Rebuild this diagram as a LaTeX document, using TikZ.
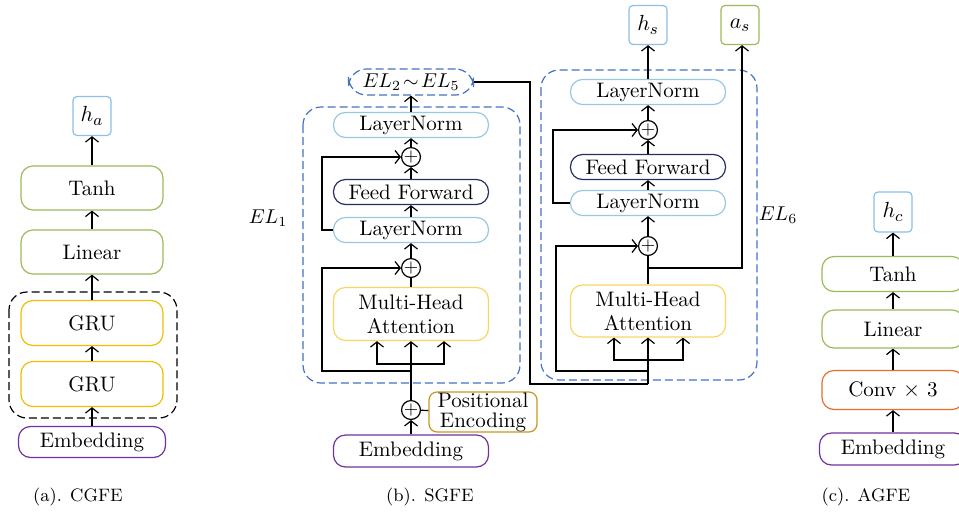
\documentclass[tikz,border=0pt]{standalone}
\usepackage{amsmath}
\usepackage{amssymb}
\usepackage{tikz}
\usetikzlibrary{arrows.meta}

\definecolor{hblue}{RGB}{140,190,232}
\definecolor{lnblue}{RGB}{150,200,222}
\definecolor{lgreen}{RGB}{155,187,89}
\definecolor{gruyel}{RGB}{240,190,0}
\definecolor{mhayel}{RGB}{250,212,95}
\definecolor{pegold}{RGB}{200,150,30}
\definecolor{ffnavy}{RGB}{40,45,100}
\definecolor{embpur}{RGB}{112,48,160}
\definecolor{convor}{RGB}{230,110,40}
\definecolor{dblue}{RGB}{68,114,196}

\begin{document}
\begin{tikzpicture}[x=0.5pt, y=-0.5pt, line width=0.6pt,
    >={Straight Barb[length=2.6pt,width=6.5pt]},
    box/.style={draw, rounded corners=6pt, minimum width=71pt, minimum height=22pt,
      inner sep=0pt, font=\fontsize{10.5}{12}\selectfont},
    pill/.style={box, minimum width=77.5pt, minimum height=12.5pt},
    outbox/.style={draw, rounded corners=2pt, minimum width=19pt, minimum height=19.5pt,
      inner sep=0pt, font=\fontsize{11}{12}\selectfont},
    plus/.style={draw, circle, inner sep=0pt, minimum size=7.5pt, font=\small},
    layer/.style={draw=dblue, dash pattern=on 4pt off 2pt, rounded corners=9pt},
    captext/.style={font=\small}]
      \useasboundingbox (0,0) rectangle (959,515);
      % (a) CGFE
      \draw[dash pattern=on 4pt off 2pt, rounded corners=9pt] (9,292) rectangle (177,418);
      \node[outbox, draw=hblue] (ha) at (92,116) {$h_a$};
      \node[box, draw=lgreen] (tanha) at (92,188) {Tanh};
      \node[box, draw=lgreen] (lina) at (92,252) {Linear};
      \node[box, draw=gruyel, minimum height=22.5pt] (grua) at (92,323) {GRU};
      \node[box, draw=gruyel, minimum height=22.5pt] (grub) at (92,384) {GRU};
      \node[box, draw=embpur, minimum width=73.5pt, minimum height=15.5pt] (emba) at (92,442) {Embedding};
      \draw[->] (emba) -- (grub);
      \draw[->] (grub) -- (grua);
      \draw[->] (grua) -- (lina);
      \draw[->] (lina) -- (tanha);
      \draw[->] (tanha) -- (ha);
      \node[captext] (capa) at (78,497) {(a). CGFE};

      % (b) SGFE, EL1
      \draw[layer] (303,107) rectangle (520,383);
      \node[layer, minimum width=62.5pt, minimum height=13pt, inner sep=0pt] (elmid) at (411,82) {$EL_2\!\sim\!EL_5$};
      \node[pill, draw=lnblue] (lnb1) at (411,125) {LayerNorm};
      \node[plus] (plb1) at (411,157) {$+$};
      \node[pill, draw=ffnavy] (ffb) at (411,192) {Feed Forward};
      \node[pill, draw=lnblue] (lnb2) at (411,230) {LayerNorm};
      \node[plus] (plb2) at (411,268) {$+$};
      \node[box, draw=mhayel, minimum width=77.5pt, minimum height=26.5pt, align=center] (mhab) at (411,314) {Multi-Head\\Attention};
      \node[plus] (plb0) at (411,410) {$+$};
      \node[box, draw=pegold, minimum width=54pt, minimum height=20pt, rounded corners=4pt, align=center,
        font=\fontsize{10.5}{10}\selectfont] (peb) at (483,412) {Positional\\Encoding};
      \node[box, draw=embpur, minimum width=77.5pt, minimum height=16pt] (embb) at (411,451) {Embedding};
      \node (elone) at (268,218) {$EL_1$};
      \coordinate (spb) at (411,364);
      \coordinate (rsb) at (411,371);
      \draw[->] (embb) -- (plb0);
      \draw (plb0) -- (peb);
      \draw[->] (plb0) -- (mhab);
      \draw[->] (spb) -| ([xshift=-17pt]mhab.south);
      \draw[->] (spb) -| ([xshift=16.5pt]mhab.south);
      \draw[->] (rsb) -- ++(-89,0) |- (plb2);
      \draw (mhab) -- (plb2);
      \draw[->] (plb2) -- (lnb2);
      \draw[->] (lnb2) -- (ffb);
      \draw[->] (ffb) -- (plb1);
      \draw[->] (plb1) -- (lnb1);
      \draw[->] (lnb1) -- (elmid);
      \draw[->] (lnb2.west) -- ++(-11,0) |- (plb1);

      % (b) SGFE, EL6
      \draw[layer] (541,70) rectangle (757,380);
      \node[outbox, draw=hblue] (hs) at (648,25) {$h_s$};
      \node[outbox, draw=lgreen] (as) at (740,25) {$a_s$};
      \node[pill, draw=lnblue] (lnc1) at (648,92) {LayerNorm};
      \node[plus] (plc1) at (648,130) {$+$};
      \node[pill, draw=ffnavy] (ffc) at (648,167) {Feed Forward};
      \node[pill, draw=lnblue] (lnc2) at (648,203) {LayerNorm};
      \node[plus] (plc2) at (648,246) {$+$};
      \node[box, draw=mhayel, minimum width=77.5pt, minimum height=26pt, align=center] (mhac) at (648,311) {Multi-Head\\Attention};
      \node (elsix) at (778,215) {$EL_6$};
      \coordinate (inc) at (648,384);
      \coordinate (spc) at (648,360);
      \coordinate (rsc) at (648,371);
      \coordinate (brc) at (648,268);
      \draw (elmid.east) -| (530,384) -- (inc);
      \draw[->] (inc) -- (mhac);
      \draw[->] (spc) -| ([xshift=-17pt]mhac.south);
      \draw[->] (spc) -| ([xshift=17.5pt]mhac.south);
      \draw[->] (rsc) -- ++(-92,0) |- (plc2);
      \draw (mhac) -- (plc2);
      \draw[->] (brc) -| ([xshift=1pt]as.south);
      \draw[->] (plc2) -- (lnc2);
      \draw[->] (lnc2) -- (ffc);
      \draw[->] (ffc) -- (plc1);
      \draw[->] (plc1) -- (lnc1);
      \draw[->] (lnc1) -- (hs);
      \draw[->] (lnc2.west) -- ++(-17,0) |- (plc1);
      \node[captext] (capb) at (430,497) {(b). SGFE};

      % (c) AGFE
      \node[outbox, draw=hblue, minimum height=20pt] (hc) at (893,212) {$h_c$};
      \node[box, draw=lgreen, minimum height=17.5pt] (tanhc) at (893,274) {Tanh};
      \node[box, draw=lgreen, minimum height=19pt] (linc) at (893,329) {Linear};
      \node[box, draw=convor, minimum height=19.5pt] (convc) at (893,390) {Conv $\times$ 3};
      \node[box, draw=embpur, minimum width=73.5pt, minimum height=16pt] (embc) at (893,449) {Embedding};
      \draw[->] (embc) -- (convc);
      \draw[->] (convc) -- (linc);
      \draw[->] (linc) -- (tanhc);
      \draw[->] (tanhc) -- (hc);
      \node[captext] (capc) at (866,497) {(c). AGFE};
    \end{tikzpicture}
\end{document}
